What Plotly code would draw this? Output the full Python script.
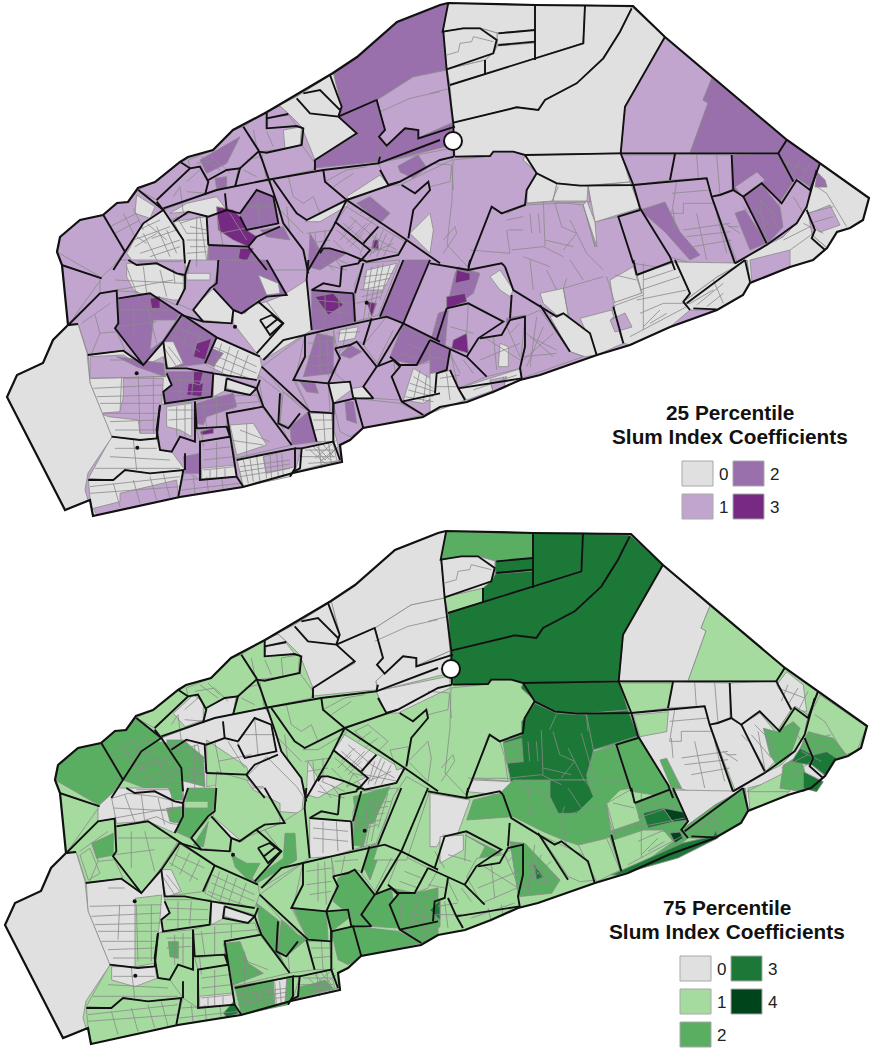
import plotly.graph_objects as go

PURPLES = ["#E0E0E0", "#C2A5CF", "#9970AB", "#762A83"]
GREENS = ["#E0E0E0", "#A6DBA0", "#5AAE61", "#1B7837", "#00441B"]
TITLE_25 = ["25 Percentile", "Slum Index Coefficients"]
TITLE_75 = ["75 Percentile", "Slum Index Coefficients"]
LEGEND_25 = [(0, 682, 461), (1, 682, 494), (2, 733, 461), (3, 733, 494)]
LEGEND_75 = [(0, 680, 956), (1, 680, 989), (2, 680, 1022), (3, 731, 956), (4, 731, 989)]
OFFSET_75 = (-2, 528)

PANELS = {"p": (0, 0, 1), "a": (0, 0, 3), "b": (0, 260, 3), "c": (430, 0, 3), "d": (430, 260, 3),
          "e": (432, -3, 3), "f": (2, 252, 3), "g": (432, 252, 3), "h": (2, 62, 3)}

OUTLINE = [(448,3),(535,5),(633,6),(665,37),(787,140),(820,163),(869,198),(863,220),(850,228),(837,232),(827,248),
           (813,260),(790,267),(750,283),(743,295),(717,310),(670,327),(630,345),(597,355),(540,375),(520,380),
           (493,392),(467,402),(440,407),(423,417),(363,428),(350,440),(340,445),(342,462),(293,473),(243,487),
           (180,497),(93,516),(90,500),(65,510),(7,397),(17,375),(43,363),(53,340),(68,325),(78,324),(68,325),
           (62,265),(57,252),(60,237),(80,220),(103,215),(117,203),(128,202),(138,188),(155,182),(180,162),
           (188,157),(213,150),(233,130),(267,112),(333,73),(357,57),(397,22),(440,5)]

REGIONS = [
 ("p",[(333,73),(357,57),(397,22),(440,5),(448,3),(443,32),(447,70),(413,77),(377,100),(338,117),(342,107)],2,0),
 ("p",[(377,100),(413,77),(447,70),(452,123),(418,138),(418,130),(405,128),(387,146),(379,137),(385,130)],1,0),
 ("p",[(338,117),(377,100),(385,130),(379,137),(387,146),(378,153),(379,162),(365,163),(315,168),(313,160),(357,135),(340,125)],2,0),
 ("p",[(378,153),(405,128),(418,130),(418,138),(452,123),(452,145),(380,163)],2,0),
 ("p",[(378,163),(452,148),(452,160),(400,185),(388,185)],1,0),
 ("p",[(398,166),(418,155),(427,168),(413,178),(400,172)],2,None),
 ("p",[(448,3),(535,5),(535,30),(497,33),(480,28),(463,28),(443,32)],0,2),
 ("p",[(535,5),(585,5),(583,43),(535,58)],0,3),
 ("p",[(497,33),(535,30),(535,43),(497,46)],0,3),
 ("p",[(497,46),(535,43),(535,58),(485,75),(485,60),(494,52)],0,3),
 ("p",[(447,69),(485,60),(485,75),(450,85)],0,1),
 ("p",[(443,32),(463,28),(480,28),(497,33),(497,46),(494,52),(485,60),(447,69)],0,0),
 ("p",[(450,85),(583,43),(585,5),(632,7),(620,32),(603,58),(577,83),(545,100),(538,110),(517,107),(453,123)],0,3),
 ("p",[(453,123),(517,107),(538,110),(545,100),(577,83),(603,58),(620,32),(632,7),(665,37),(625,107),(621,153),(525,155),(513,152),(493,152),(490,156),(455,157)],0,3),
 ("p",[(665,37),(712,78),(703,100),(708,103),(690,153),(621,153),(625,107)],1,0),
 ("p",[(712,78),(787,140),(778,153),(690,153),(708,103),(703,100)],2,1),
 ("p",[(525,155),(621,153),(630,182),(580,186),(557,183),(537,173),(523,160)],0,3),
 ("p",[(621,153),(675,153),(670,180),(633,185)],1,1),
 ("p",[(453,160),(490,156),(493,152),(513,152),(525,155),(523,160),(537,173),(527,190),(527,203),(502,213),(492,207),(468,267),(447,245),(452,200)],1,1),
 # west
 ("a",[(170,755),(180,710),(240,660),(310,645),(372,755),(312,837)],1,2),
 ("a",[(310,645),(350,610),(385,605),(415,570),(490,630),(430,670),(375,755)],1,2),
 ("a",[(410,585),(465,620),(450,655),(405,640)],0,None),
 ("a",[(415,570),(465,545),(540,485),(570,505),(470,600)],1,1),
 ("a",[(470,600),(570,505),(600,500),(625,545),(615,585),(490,630)],1,1),
 ("h",[(520,370),(580,315),(610,335),(610,390),(555,410)],None,0),
 ("a",[(565,480),(640,450),(700,390),(730,380),(775,455),(715,505),(680,510),(625,540),(600,500),(570,505)],1,1),
 ("a",[(600,480),(720,410),(680,490),(620,520)],2,None),
 ("a",[(625,540),(680,510),(715,505),(705,560),(615,585)],1,0),
 ("a",[(645,535),(680,530),(680,565),(650,565)],2,None),
 ("a",[(715,505),(775,455),(790,490),(800,540),(705,560)],1,1),
 ("a",[(800,335),(840,318),(865,340),(800,355)],1,0),
 ("a",[(805,355),(865,345),(890,378),(800,385)],1,0),
 ("a",[(800,335),(890,290),(1000,220),(1025,320),(1015,350),(1070,400),(945,480),(905,380),(865,340),(840,318)],0,0),
 ("a",[(730,380),(800,335),(800,385),(890,378),(910,385),(900,440),(780,455)],1,1),
 ("a",[(850,390),(905,380),(900,440),(855,445)],0,1),
 ("a",[(785,458),(855,445),(905,435),(945,490),(940,510),(800,540)],1,1),
 ("p",[(268,180),(323,170),(325,182),(347,200),(307,220),(297,213),(273,180)],1,1),
 ("p",[(323,170),(378,163),(388,185),(347,200),(325,182)],1,1),
 ("a",[(1040,590),(1140,525),(1165,555),(1050,600)],0,None),
 ("a",[(915,665),(1035,605),(1045,615),(960,665)],0,1),
 # central north (below the main road)
 ("a",[(490,630),(650,570),(800,540),(815,560),(835,620),(850,670),(910,750),(920,810),(555,810),(550,720)],1,0),
 ("h",[(620,450),(740,530),(750,570),(620,590)],None,1),
 ("h",[(430,450),(510,460),(540,540),(550,620),(450,600),(370,570)],None,2),
 ("h",[(500,450),(550,450),(610,500),(615,590),(540,570)],None,2),
 ("a",[(510,640),(565,635),(625,650),(680,630),(650,590),(560,610)],0,None),
 ("a",[(380,760),(430,670),(490,630),(550,720),(555,800),(410,800)],0,None),
 ("a",[(520,665),(620,650),(625,735),(620,810),(555,800),(550,720)],0,None),
 ("a",[(720,640),(770,570),(820,590),(835,670),(740,690),(720,650)],2,0),
 ("a",[(650,620),(700,630),(720,650),(740,690),(770,710),(745,740),(700,720),(655,690)],3,None),
 ("a",[(625,735),(745,740),(790,800),(650,810),(625,800)],2,None),
 ("a",[(720,745),(760,745),(740,785),(715,775)],3,None),
 ("a",[(780,690),(850,680),(870,720),(800,710)],2,None),
 ("h",[(740,560),(800,500),(890,590),(910,620),(905,670),(840,665),(790,590),(760,590)],None,0),
 # south-west
 ("b",[(185,15),(305,55),(205,195)],1,1),
 ("b",[(205,195),(300,100),(350,92),(355,190),(345,205),(375,270),(265,285),(235,193)],1,1),
 ("f",[(275,190),(340,160),(340,225),(290,235)],None,2),
 ("f",[(240,225),(270,205),(300,280),(265,300)],None,1),
 ("b",[(300,55),(360,0),(555,0),(555,90),(530,135),(450,100),(350,92),(300,100)],1,0),
 ("b",[(380,10),(470,10),(550,50),(550,120),(520,120),(420,100),(400,90),(380,50)],0,None),
 ("f",[(335,55),(385,40),(470,50),(550,70),(545,135),(510,130),(470,110),(420,125),(350,130)],None,0),
 ("f",[(500,85),(545,80),(545,130),(510,125)],None,2),
 ("f",[(500,10),(545,10),(548,60),(520,60)],None,2),
 ("b",[(355,115),(450,100),(540,160),(490,240),(430,315),(345,205),(355,190)],2,1),
 ("b",[(460,180),(530,180),(490,240),(450,270)],1,None),
 ("b",[(450,115),(480,110),(480,145),(455,145)],3,None),
 ("b",[(540,165),(650,232),(620,310),(500,325),(485,245)],2,1),
 ("b",[(485,245),(520,245),(550,310),(505,328)],0,0),
 ("b",[(590,250),(635,235),(615,300),(580,290)],3,None),
 ("b",[(650,232),(780,290),(785,320),(770,360),(680,345),(620,315)],0,1),
 ("b",[(635,265),(670,280),(640,320),(620,310)],2,None),
 ("b",[(265,285),(370,272),(430,315),(490,250),(500,340),(515,375),(490,395),(495,430),(480,435),(470,535),(420,540),(335,530),(270,370)],0,0),
 ("b",[(270,290),(370,285),(430,320),(490,290),(498,350),(270,355)],1,None),
 ("b",[(350,290),(490,310),(495,350),(410,320)],2,None),
 ("b",[(370,355),(490,355),(480,520),(420,520),(415,480),(325,470),(300,460),(360,455),(370,410)],1,None),
 ("f",[(405,355),(485,345),(480,415),(465,550),(405,560)],None,1),
 ("b",[(335,530),(420,540),(470,535),(480,570),(515,575),(555,630),(450,640),(375,630),(340,660),(265,655)],0,1),
 ("f",[(335,560),(465,560),(470,595),(405,620),(335,600)],None,0),
 ("b",[(265,660),(340,660),(375,630),(450,640),(550,630),(535,710),(280,768),(270,715)],0,1),
 ("b",[(360,700),(530,660),(535,710),(290,765),(280,745),(360,725)],1,None),
 ("b",[(480,435),(585,425),(585,545),(540,530),(515,575),(480,570),(470,510)],1,1),
 ("b",[(500,440),(575,430),(575,530),(540,510),(500,500)],0,None),
 ("f",[(505,485),(535,485),(535,535),(510,530)],None,2),
 ("b",[(500,335),(640,335),(635,410),(495,430),(490,395),(515,375)],2,1),
 ("b",[(565,370),(610,370),(605,410),(560,405)],3,None),
 ("b",[(580,335),(610,335),(600,375),(580,370)],3,None),
 ("b",[(640,340),(680,350),(680,390),(640,410)],0,0),
 ("b",[(680,355),(770,380),(750,405),(680,385)],0,0),
 ("b",[(585,425),(635,410),(770,405),(785,440),(680,460),(680,500),(590,505)],1,1),
 ("b",[(590,430),(640,415),(700,400),(710,440),(620,470),(610,495),(590,490)],2,None),
 ("b",[(680,460),(785,440),(875,555),(705,595)],1,1),
 ("b",[(690,495),(760,490),(800,555),(710,585)],0,None),
 ("f",[(670,490),(720,485),(745,550),(790,580),(700,615)],None,2),
 ("b",[(590,510),(680,500),(690,530),(600,545)],1,1),
 ("b",[(600,515),(640,505),(640,520),(605,525)],3,None),
 ("b",[(600,545),(690,530),(705,600),(710,650),(605,660)],1,1),
 ("b",[(605,625),(705,615),(710,650),(605,660)],0,0),
 ("b",[(710,595),(885,565),(885,625),(870,650),(730,680)],0,2),
 ("b",[(790,590),(885,565),(885,620),(800,640)],1,None),
 ("f",[(820,600),(860,595),(855,670),(825,675)],None,0),
 ("b",[(535,710),(555,630),(600,660),(710,650),(730,680)],1,1),
 ("b",[(550,590),(600,580),(600,640),(555,640)],2,None),
 ("f",[(670,700),(700,665),(715,700),(680,712)],None,3),
 ("b",[(885,635),(905,565),(1000,545),(1020,600)],0,1),
 ("f",[(900,620),(945,610),(975,600),(1000,625),(890,655)],None,2),
 ("b",[(940,560),(1005,520),(1015,560),(975,600)],0,None),
 # central
 ("b",[(775,345),(845,400),(840,490),(870,550),(790,440)],1,2),
 ("b",[(850,395),(900,440),(930,455),(870,500),(840,490)],1,2),
 ("b",[(930,460),(995,460),(1000,545),(950,545)],0,1),
 ("b",[(870,500),(925,455),(950,545),(875,555)],2,1),
 ("b",[(785,320),(915,225),(915,290),(880,360),(930,455),(850,395)],1,1),
 ("b",[(885,360),(985,370),(990,455),(930,455)],1,2),
 ("b",[(900,365),(945,370),(955,400),(920,395)],2,None),
 ("b",[(915,225),(1000,205),(1005,265),(1020,295),(1005,325),(985,370),(885,360)],1,1),
 ("b",[(950,220),(1000,230),(1000,340),(910,350)],2,None),
 ("b",[(1020,270),(1070,245),(1130,320),(1090,380),(1060,385),(1005,340)],1,2),
 ("b",[(1050,255),(1085,275),(1050,295),(1020,285)],2,None),
 ("b",[(985,370),(1050,365),(1060,415),(1120,415),(1090,380),(1060,385),(1000,430)],0,2),
 ("b",[(1000,430),(1065,415),(1090,505),(1050,530),(1020,515)],1,2),
 ("b",[(1035,425),(1060,425),(1070,490),(1040,480)],2,None),
 ("b",[(1065,415),(1200,430),(1270,465),(1090,505)],1,2),
 ("b",[(1130,320),(1180,300),(1200,420),(1120,415),(1090,380)],1,2),
 ("b",[(1090,255),(1160,170),(1210,190),(1135,315)],1,1),
 ("b",[(1000,205),(1115,175),(1090,250),(1070,245),(1010,265)],1,1),
 ("b",[(1020,210),(1075,200),(1065,235),(1015,245)],0,None),
 ("f",[(1090,260),(1115,195),(1150,190),(1110,300)],None,2),
 ("b",[(1210,190),(1320,245),(1290,300),(1250,315),(1200,315),(1170,290)],2,1),
 ("b",[(1180,300),(1200,320),(1175,350),(1205,425),(1270,465),(1320,440),(1320,300),(1250,315)],1,2),
 ("b",[(1210,420),(1240,325),(1300,360),(1310,405),(1270,430)],0,None),
 ("f",[(1200,370),(1260,345),(1320,360),(1320,440),(1265,470),(1205,450)],None,2),
 ("f",[(1290,390),(1320,360),(1320,420)],None,3),
 ("b",[(935,90),(1060,100),(1065,185),(1000,205),(935,210)],2,0),
 ("b",[(945,110),(1000,100),(1030,135),(985,165)],3,None),
 ("b",[(1065,70),(1090,10),(1200,0),(1135,165),(1065,185)],1,1),
 ("b",[(1100,30),(1190,10),(1150,90),(1090,90)],0,None),
 ("b",[(1100,125),(1130,130),(1115,170)],3,None),
 ("f",[(1065,60),(1130,40),(1110,120),(1090,200),(1060,195)],None,2),
 ("b",[(1140,170),(1210,0),(1290,0),(1210,185)],2,1),
 ("b",[(850,105),(920,60),(935,210),(790,300),(770,280),(850,190),(800,125)],0,1),
 ("f",[(855,160),(885,160),(890,240),(770,310),(755,300),(850,235)],None,2),
 ("b",[(700,150),(800,125),(850,190),(770,280),(700,190)],0,1),
 ("f",[(695,225),(740,250),(780,250),(750,305),(705,260)],None,2),
 ("b",[(640,85),(700,150),(695,190),(605,180),(575,150)],0,1),
 ("f",[(580,195),(625,125),(610,200)],None,2),
 ("b",[(570,0),(655,0),(650,70),(630,85),(575,150),(530,130),(555,90)],1,2),
 ("b",[(560,40),(630,40),(630,60),(560,60)],0,1),
 ("b",[(660,0),(800,0),(860,105),(800,110),(770,120),(735,160),(700,150),(640,85)],2,0),
 ("b",[(775,45),(835,70),(840,100),(800,105)],0,None),
 ("h",[(650,545),(740,570),(760,600),(840,640),(840,700),(720,750),(640,680)],None,1),
 # triangle north of centre
 ("a",[(1000,680),(1040,620),(1135,680),(1090,730),(1005,665)],1,0),
 ("a",[(1070,610),(1110,590),(1170,640),(1140,670)],2,1),
 ("a",[(1230,700),(1290,640),(1300,690),(1290,760)],0,1),
 ("a",[(930,700),(960,750),(990,745),(1040,760),(960,810),(925,800)],2,0),
 ("a",[(1110,700),(1140,680),(1215,725),(1195,765),(1100,785),(1080,760)],1,0),
 ("a",[(1120,720),(1135,720),(1135,750),(1115,745)],3,None),
 ("h",[(1060,620),(1100,610),(1170,590),(1120,700),(1070,700)],None,2),
 ("h",[(1170,480),(1225,470),(1220,530),(1190,540)],None,1),
 ("h",[(1180,620),(1220,560),(1290,600),(1220,810),(1120,810)],None,1),
 ("h",[(1080,570),(1040,590),(1060,550),(1100,560)],None,1),
 # east middle
 ("c",[(230,640),(285,615),(580,600),(640,630),(720,770),(735,810),(610,790),(565,650),(495,665),(495,740),(460,615),(365,605),(290,610)],1,2),
 ("p",[(537,173),(557,183),(553,201),(527,203),(527,190)],0,3),
 ("p",[(557,183),(588,186),(587,201),(553,201)],0,3),
 ("p",[(588,186),(630,182),(640,208),(595,222)],0,3),
 ("p",[(587,201),(595,222),(597,247),(583,205)],0,3),
 ("e",[(275,590),(315,535),(380,565),(470,570),(490,675),(480,750),(440,810),(250,810),(232,720),(220,650),(275,630)],None,3),
 ("e",[(490,680),(555,660),(600,790),(480,810),(470,750)],None,2),
 ("e",[(220,655),(275,640),(280,710),(230,715)],None,2),
 ("e",[(175,630),(210,650),(232,720),(240,760),(130,760)],None,1),
 ("e",[(110,800),(130,765),(250,770),(215,810)],None,0),
 ("g",[(110,120),(130,60),(210,40),(250,0),(600,0),(530,70),(545,170),(445,195),(400,180),(340,155),(250,110)],None,2),
 ("g",[(360,0),(470,0),(490,50),(440,100),(385,100),(360,50)],None,3),
 ("g",[(530,70),(600,30),(640,130),(555,160)],None,1),
 ("g",[(0,40),(120,60),(80,170),(40,165),(20,200),(0,200)],None,0),
 ("g",[(30,170),(100,165),(100,210),(30,250)],None,0),
 ("g",[(105,165),(215,220),(145,240),(165,200)],None,2),
 ("g",[(140,235),(215,225),(275,190),(270,320),(155,370),(110,290)],None,1),
 ("g",[(240,185),(285,190),(390,300),(365,340),(265,350)],None,2),
 ("g",[(310,250),(340,290),(320,300)],None,3),
 ("g",[(330,165),(385,190),(470,230),(500,300),(450,305),(415,290)],None,1),
 ("g",[(445,195),(530,175),(570,270),(500,305)],None,1),
 ("g",[(555,170),(640,130),(700,150),(735,185),(610,270),(570,270)],None,1),
 # east: purple gray patches
 ("d",[(180,50),(210,30),(250,90),(240,110),(210,90)],0,None),
 ("d",[(330,100),(400,85),(415,165),(380,165),(340,130)],0,None),
 ("d",[(540,60),(610,20),(635,100),(550,130)],0,None),
 ("d",[(450,175),(545,150),(580,250),(500,285)],0,None),
 ("d",[(360,170),(400,160),(480,220),(500,285),(465,290),(420,275)],0,None),
 ("d",[(545,175),(590,150),(615,185),(570,215)],1,None),
 ("d",[(50,145),(115,130),(220,185),(145,235),(110,290),(20,240)],1,None),
 ("d",[(75,40),(85,20),(150,40),(130,100),(70,140),(50,145)],2,None),
 ("d",[(50,110),(105,100),(110,125),(50,145)],3,None),
 ("d",[(80,30),(120,40),(120,60),(75,70)],3,None),
 ("d",[(70,240),(110,220),(115,280),(65,265)],3,None),
 ("d",[(25,160),(55,150),(45,260),(0,250)],2,None),
 ("d",[(230,175),(285,165),(270,250),(230,230)],2,None),
 ("d",[(110,290),(145,235),(215,225),(240,180),(285,170),(285,260),(270,325),(170,350)],1,None),
 ("d",[(210,250),(235,260),(235,320),(205,320)],0,None),
 ("d",[(285,170),(330,150),(420,275),(460,290),(275,355),(270,325)],1,None),
 ("d",[(0,340),(50,335),(60,330),(85,385),(105,420),(0,460)],0,None),
 ("d",[(85,385),(275,325),(275,360),(110,420)],0,None),
 ("d",[(180,360),(230,350),(220,385),(190,395)],1,None),
 ("d",[(60,270),(110,290),(170,350),(85,385)],1,None),
 ("d",[(0,240),(60,270),(50,330),(0,340)],2,None),
 ("c",[(640,625),(725,605),(740,700),(820,800),(790,810),(760,760),(690,690)],2,None),
 # east purple map blocks
 ("p",[(633,185),(707,178),(712,197),(734,263),(715,270),(670,257),(642,210)],1,0),
 ("p",[(640,210),(665,202),(680,232),(700,255),(690,260),(665,232)],2,None),
 ("e",[(610,570),(715,560),(710,620),(630,635)],None,1),
 ("e",[(690,705),(710,700),(755,790),(725,790)],None,2),
 ("p",[(675,154),(732,155),(733,190),(712,197),(707,178),(670,180)],1,0),
 ("p",[(732,155),(778,153),(793,182),(780,202),(762,183),(742,197),(732,190)],2,0),
 ("p",[(735,187),(757,172),(765,180),(742,196)],1,None),
 ("p",[(778,153),(787,140),(820,163),(810,187),(797,178),(793,182)],2,1),
 ("e",[(1040,480),(1070,440),(1120,480),(1130,560),(1085,550)],None,0),
 ("p",[(820,163),(869,198),(863,220),(850,228),(837,232),(827,248),(812,235),(815,225),(803,217),(810,190),(816,172)],0,1),
 ("p",[(817,172),(825,180),(827,187),(815,187)],2,None),
 ("p",[(805,215),(830,205),(840,225),(820,232)],1,None),
 ("p",[(793,182),(797,178),(810,187),(807,207),(797,223),(783,237),(767,246),(780,202)],1,1),
 ("p",[(743,197),(762,185),(780,207),(783,227),(768,243)],2,0),
 ("p",[(712,197),(732,190),(743,197),(768,243),(737,262)],1,0),
 ("p",[(735,213),(745,210),(767,243),(750,250)],2,None),
 ("p",[(735,263),(763,247),(783,237),(797,223),(807,207),(812,235),(827,248),(813,260),(790,267),(750,283),(747,260),(717,277),(683,302),(675,262)],0,0),
 ("p",[(747,260),(750,283),(743,295),(717,310),(690,310),(683,302),(717,277)],0,2),
 ("p",[(750,260),(790,250),(790,267),(752,282)],1,1),
 ("p",[(637,275),(675,262),(690,293),(683,303),(690,310),(670,327),(630,345),(623,343),(612,310),(615,307),(613,303),(642,293)],0,2),
 ("g",[(550,180),(640,150),(700,150),(730,185),(610,270),(570,270)],None,1),
 ("p",[(665,280),(685,284),(689,292),(675,294)],None,4),
 ("p",[(672,305),(682,304),(685,310),(677,315)],None,4),
 ("p",[(645,285),(665,280),(675,294),(650,300)],None,3),
 ("p",[(613,347),(685,315),(715,308),(718,302),(720,310),(680,330),(620,347)],None,3),
 ("p",[(610,320),(625,313),(632,327),(615,332)],1,None),
 ("e",[(1000,610),(1040,620),(1090,590),(1110,610),(1085,680),(1040,720),(1020,690)],None,2),
 ("e",[(950,800),(1060,745),(1080,800)],None,1),
 ("e",[(1110,700),(1130,590),(1170,510),(1310,605),(1280,680),(1240,690),(1180,720)],None,1),
 ("e",[(1060,720),(1110,690),(1130,760),(1170,770),(1120,800),(1050,790)],None,2),
 ("e",[(1120,740),(1180,770),(1160,800),(1120,790)],None,3),
 ("e",[(1110,670),(1135,620),(1210,640),(1250,690),(1190,710)],None,2),
 ("e",[(1085,710),(1110,670),(1150,690),(1140,720)],None,3),
 ("e",[(1140,715),(1185,750),(1220,700),(1190,680),(1150,690)],None,3),
 # the large grey parcel on the west edge is empty in both maps
 ("p",[(78,324),(87,353),(90,383),(112,437),(88,473),(85,490),(88,500),(65,510),(7,397),(17,375),(43,363),(53,340),(68,325)],0,0),
]

THIN = [
 ("a",[(1130,340),(1230,295),(1320,275)]),("a",[(590,490),(650,480),(690,520)]),("a",[(605,470),(660,510)]),("a",[(630,465),(665,500)]),
 ("a",[(520,590),(540,560),(550,640)]),("a",[(560,575),(620,580)]),("a",[(560,545),(600,510)]),("a",[(760,390),(770,440)]),("a",[(800,395),(820,440)]),
 ("a",[(730,510),(770,530)]),("a",[(740,480),(780,470)]),("a",[(865,530),(880,590),(910,610),(940,590),(960,640)]),("a",[(975,545),(1040,510),(1100,500)]),
 ("a",[(1000,560),(1060,520)]),("a",[(330,680),(410,640)]),("a",[(345,700),(420,660)]),("a",[(370,640),(400,700)]),("a",[(400,625),(430,690)]),
 ("a",[(400,720),(510,680)]),("a",[(420,760),(540,720)]),("a",[(430,700),(470,780)]),("a",[(470,680),(510,770)]),("a",[(510,660),(570,640)]),("a",[(540,670),(600,650)]),
 ("a",[(570,680),(620,690)]),("a",[(560,720),(620,720)]),("a",[(560,760),(620,755)]),("a",[(590,650),(590,800)]),("a",[(650,640),(670,740)]),("a",[(690,640),(740,720)]),
 ("a",[(660,700),(760,680)]),("a",[(730,620),(830,620)]),("a",[(770,570),(780,680)]),("a",[(860,620),(870,700)]),("a",[(830,620),(910,700)]),
 ("a",[(920,700),(1000,690)]),("a",[(930,730),(990,720)]),("a",[(945,700),(950,770)]),("a",[(975,690),(975,760)]),("a",[(1010,690),(1080,750)]),("a",[(1030,670),(1100,730)]),
 ("a",[(1050,650),(1120,710)]),("a",[(1020,720),(1060,680)]),("a",[(1050,740),(1090,700)]),("a",[(1080,640),(1120,610)]),("a",[(1100,660),(1140,630)]),
 ("a",[(1120,710),(1190,750)]),("a",[(1150,690),(1120,760)]),("a",[(1180,710),(1150,770)]),("a",[(970,760),(1040,790)]),("a",[(960,790),(1040,810)]),
 ("a",[(395,700),(440,730)]),("a",[(405,740),(470,700)]),("a",[(440,670),(500,720)]),("a",[(450,770),(540,740)]),("a",[(500,690),(530,760)]),("a",[(415,690),(480,660)]),
 ("a",[(455,715),(530,690)]),("a",[(415,785),(545,785)]),("a",[(530,650),(560,700)]),("a",[(560,700),(620,700)]),("a",[(600,650),(620,780)]),("a",[(570,740),(620,740)]),
 ("a",[(1030,700),(1070,660)]),("a",[(1040,730),(1100,670)]),("a",[(1060,720),(1120,660)]),("a",[(1000,720),(1040,760)]),("a",[(1130,700),(1110,770)]),("a",[(1160,700),(1130,770)]),
 ("a",[(1100,740),(1200,760)]),("a",[(1110,760),(1180,730)]),("a",[(965,770),(1000,810)]),("a",[(1000,770),(1030,810)]),
 ("b",[(245,190),(330,130)]),("b",[(285,165),(300,220),(275,280)]),("b",[(300,220),(350,215)]),("b",[(360,150),(530,150)]),("b",[(400,130),(400,240)]),("b",[(440,130),(470,250)]),("b",[(350,200),(470,185)]),
 ("b",[(380,20),(410,100)]),("b",[(345,60),(550,70)]),("b",[(350,90),(520,60)]),("b",[(430,20),(440,100)]),("b",[(480,30),(500,110)]),("b",[(520,25),(525,70)]),
 ("b",[(530,200),(620,240)]),("b",[(515,225),(600,275)]),("b",[(545,175),(520,235)]),("b",[(575,195),(545,260)]),("b",[(605,215),(575,280)]),("b",[(505,260),(545,310)]),("b",[(490,260),(530,320)]),
 ("b",[(640,260),(770,320)]),("b",[(640,285),(770,340)]),("b",[(630,310),(760,360)]),("b",[(665,250),(640,330)]),("b",[(690,260),(665,340)]),("b",[(715,270),(690,350)]),("b",[(745,285),(720,355)]),
 ("b",[(505,360),(630,365)]),("b",[(505,395),(630,395)]),("b",[(540,340),(540,420)]),("b",[(580,340),(575,410)]),
 ("b",[(275,355),(490,350)]),("b",[(280,385),(490,375)]),("b",[(290,410),(490,405)]),("b",[(300,430),(480,430)]),("b",[(310,460),(475,460)]),("b",[(330,485),(470,480)]),("b",[(345,510),(470,510)]),
 ("b",[(365,350),(360,455)]),("b",[(415,350),(420,520)]),("b",[(460,350),(460,520)]),("b",[(330,300),(380,300)]),
 ("b",[(345,565),(470,565)]),("b",[(330,590),(510,600)]),("b",[(285,625),(540,625)]),("b",[(400,540),(410,630)]),
 ("b",[(270,680),(540,650)]),("b",[(270,700),(540,680)]),("b",[(340,670),(360,740)]),("b",[(400,660),(420,730)]),("b",[(450,650),(470,720)]),("b",[(490,640),(510,715)]),
 ("b",[(505,450),(580,450)]),("b",[(505,480),(580,475)]),("b",[(530,440),(530,530)]),("b",[(555,435),(555,530)]),
 ("b",[(585,440),(780,425)]),("b",[(610,430),(620,500)]),("b",[(650,415),(650,500)]),("b",[(700,410),(700,450)]),
 ("b",[(610,570),(695,560)]),("b",[(610,600),(700,590)]),("b",[(650,545),(650,655)]),("b",[(610,630),(705,620)]),("b",[(630,630),(630,655)]),("b",[(675,625),(675,650)]),
 ("b",[(550,660),(700,650)]),("b",[(545,690),(720,670)]),("b",[(580,650),(585,700)]),("b",[(620,650),(625,695)]),("b",[(665,650),(670,690)]),
 ("b",[(720,620),(870,600)]),("b",[(720,650),(870,625)]),("b",[(770,590),(780,665)]),("b",[(810,585),(815,660)]),("b",[(845,580),(850,650)]),
 ("b",[(720,510),(810,545)]),("b",[(740,490),(740,590)]),("b",[(690,540),(790,555)]),
 ("b",[(610,560),(605,510)]),("b",[(905,590),(1005,590)]),("b",[(930,570),(975,610)]),("b",[(950,560),(990,600)]),("b",[(970,555),(1000,590)]),("b",[(945,595),(1010,540)]),("b",[(960,605),(1015,560)]),
 ("b",[(940,480),(1000,480)]),("b",[(945,510),(1000,505)]),("b",[(970,460),(975,545)]),
 ("b",[(925,250),(1000,240)]),("b",[(925,290),(1000,280)]),("b",[(935,320),(1000,310)]),("b",[(960,225),(960,340)]),("b",[(980,220),(985,350)]),
 ("b",[(945,120),(1050,130)]),("b",[(945,150),(1050,160)]),("b",[(975,100),(975,195)]),("b",[(1015,100),(1020,190)]),
 ("b",[(1090,50),(1180,40)]),("b",[(1080,90),(1160,75)]),("b",[(1070,130),(1140,110)]),("b",[(1115,20),(1090,180)]),("b",[(1150,10),(1120,160)]),
 ("b",[(1095,70),(1170,55)]),("b",[(1085,110),(1150,95)]),("b",[(1135,15),(1105,170)]),("b",[(1170,15),(1140,120)]),
 ("b",[(1180,210),(1130,310)]),("b",[(1230,210),(1290,240)]),("b",[(1220,250),(1270,270)]),("b",[(1205,280),(1260,300)]),
 ("b",[(1240,350),(1300,385)]),("b",[(1225,390),(1300,410)]),("b",[(1260,330),(1240,420)]),("b",[(1280,345),(1270,425)]),("b",[(1230,370),(1305,395)]),("b",[(1215,410),(1300,425)]),
 ("b",[(1010,220),(1080,215)]),("b",[(1040,205),(1030,255)]),
 ("b",[(915,570),(1000,570)]),("b",[(925,610),(1010,605)]),("b",[(955,550),(965,625)]),("b",[(985,545),(995,615)]),("b",[(1000,550),(1010,600)]),
 ("b",[(730,600),(745,670)]),("b",[(750,595),(760,665)]),("b",[(790,590),(800,655)]),("b",[(830,580),(835,650)]),("b",[(720,635),(870,612)]),
 ("c",[(50,165),(85,155),(90,130),(125,125),(130,110),(190,125)]),("c",[(0,280),(60,265)]),("c",[(580,465),(735,465)]),
 ("c",[(800,462),(805,535)]),("c",[(860,465),(870,585)]),("c",[(740,545),(725,640)]),("c",[(725,580),(840,570)]),("c",[(725,640),(760,640),(760,610),(850,610)]),
 ("c",[(385,560),(365,605)]),("c",[(475,560),(480,610)]),("c",[(460,615),(495,740)]),("c",[(230,660),(280,650)]),("c",[(235,690),(280,690)]),("c",[(300,640),(305,700)]),("c",[(325,640),(330,700)]),("c",[(340,605),(345,740)]),
 ("c",[(375,610),(395,680),(440,700),(400,750)]),("c",[(245,750),(340,740),(400,770)]),("c",[(120,750),(240,760)]),("c",[(345,720),(430,740)]),
 ("c",[(230,690),(240,760)]),("c",[(280,770),(360,800)]),("c",[(420,660),(470,760),(520,810)]),
 ("c",[(40,720),(75,680),(80,700),(40,760)]),("c",[(65,500),(70,570)]),("c",[(0,490),(65,495),(60,545),(0,560)]),
 ("c",[(760,690),(900,670)]),("c",[(770,710),(900,695)]),("c",[(790,740),(905,720)]),("c",[(730,630),(735,690)]),("c",[(800,640),(830,780)]),("c",[(860,640),(890,760)]),
 ("c",[(885,670),(930,700)]),("c",[(895,680),(925,680)]),("c",[(940,620),(960,640)]),("c",[(980,590),(1040,650)]),("c",[(970,620),(1030,690)]),("c",[(990,610),(1010,720)]),("c",[(1020,640),(1050,690)]),
 ("c",[(1090,590),(1120,640)]),("c",[(1080,470),(1060,520)]),("c",[(1110,480),(1080,530)]),("c",[(1140,490),(1110,550)]),("c",[(1050,480),(1130,510)]),
 ("c",[(1160,560),(1190,580),(1250,680)]),("c",[(1130,640),(1210,620)]),("c",[(1140,670),(1210,650)]),("c",[(1120,670),(1180,700)]),("c",[(1060,720),(1140,680)]),("c",[(1080,750),(1150,700)]),
 ("d",[(640,60),(730,30)]),("d",[(630,90),(750,50)]),("d",[(620,120),(770,90)]),("d",[(630,160),(700,130),(780,130)]),("d",[(640,200),(690,150)]),("d",[(660,190),(710,160)]),("d",[(600,230),(770,140)]),
 ("d",[(545,140),(640,105)]),("d",[(555,45),(620,60)]),("d",[(640,10),(640,210)]),("d",[(780,130),(850,90)]),("d",[(800,135),(880,70)]),("d",[(830,140),(880,100)]),("d",[(850,60),(880,130)]),
 ("d",[(400,85),(520,50)]),("d",[(410,55),(400,85),(415,170)]),("d",[(530,50),(555,130)]),("d",[(420,0),(460,60)]),("d",[(350,30),(380,90)]),("d",[(300,0),(310,90)]),
 ("d",[(280,290),(380,280)]),("d",[(300,230),(380,270)]),("d",[(320,170),(300,320)]),("d",[(340,200),(290,320)]),("d",[(290,220),(370,290)]),("d",[(370,220),(280,300)]),
 ("d",[(160,230),(270,300)]),("d",[(190,225),(200,330)]),("d",[(230,200),(270,290)]),("d",[(150,300),(270,250)]),("d",[(240,220),(270,190)]),
 ("d",[(30,355),(90,345)]),("d",[(20,380),(100,380)]),("d",[(50,340),(60,420)]),("d",[(130,390),(260,345)]),("d",[(180,360),(190,400)]),("d",[(220,350),(225,385)]),
 ("d",[(0,290),(50,300)]),("d",[(60,280),(90,340)]),("d",[(100,300),(130,340)]),("d",[(60,200),(130,220)]),("d",[(115,130),(110,220)]),("d",[(20,190),(50,240)]),
]

THICK = [
 ("a",[(730,380),(775,450),(790,490),(815,560),(835,620),(850,670),(910,750),(925,820)]),
 ("b",[(925,0),(920,60),(935,210)]),
 ("a",[(490,625),(650,570),(800,540),(970,510),(1135,490),(1320,420)]),
 ("a",[(470,605),(490,630)]),
 ("a",[(1362,470),(1320,480),(1200,545),(1040,600),(920,660),(890,640),(820,540)]),
 ("a",[(415,570),(490,630),(430,670),(375,755),(340,810)]),
 ("a",[(310,645),(375,755)]),
 ("b",[(185,15),(305,55)]),
 ("a",[(490,630),(550,720),(555,790)]),
 ("a",[(540,485),(570,505),(470,600)]),
 ("a",[(570,505),(600,500),(625,545),(615,585)]),
 ("a",[(625,540),(680,510),(720,505),(705,560)]),
 ("a",[(720,505),(775,455)]),
 ("a",[(800,335),(800,385),(890,378),(910,385),(905,435),(855,445),(800,458),(775,455)]),
 ("a",[(800,355),(865,342)]),
 ("a",[(890,295),(930,340),(1015,350),(1070,400),(945,480)]),
 ("a",[(910,280),(960,270),(1000,310),(1020,330)]),
 ("a",[(990,225),(1025,320),(1015,350)]),
 ("a",[(1015,350),(1130,300),(1155,390),(1137,410),(1160,437),(1215,385),(1255,390),(1255,415),(1365,380)]),
 ("a",[(945,480),(945,510)]),
 ("a",[(970,510),(975,545),(1040,600),(1220,720),(1320,790)]),
 ("a",[(1140,470),(1135,490)]),("a",[(1140,510),(1165,555),(1200,545)]),
 ("a",[(1205,555),(1245,580),(1285,545),(1290,570),(1240,630),(1225,715)]),
 ("a",[(675,580),(680,630)]),
 ("a",[(720,640),(770,570),(820,590),(835,670),(740,690),(720,650)]),
 ("a",[(520,665),(565,635),(625,650),(680,630),(720,640)]),
 ("a",[(620,650),(625,735)]),
 ("a",[(745,740),(770,710),(840,680)]),
 ("a",[(625,735),(745,740),(800,810)]),
 ("a",[(1040,600),(1000,680),(960,750),(925,810)]),
 ("a",[(1005,665),(1110,750),(1080,785)]),
 ("a",[(1135,680),(1090,730)]),
 ("a",[(1220,720),(1195,765),(1100,785),(1040,760),(990,745),(970,745),(960,760)]),
 ("b",[(205,195),(300,100),(350,92),(355,190),(345,205),(430,315),(490,245),(545,165),(610,185)]),
 ("b",[(355,115),(450,100),(650,232),(780,290)]),
 ("b",[(263,285),(370,272),(430,315)]),
 ("b",[(650,232),(615,310)]),
 ("b",[(490,245),(500,325),(560,325),(640,340),(770,360)]),
 ("b",[(640,340),(635,410),(495,430),(490,395),(515,375),(500,340)]),
 ("b",[(680,355),(675,390),(750,405),(770,385),(680,355)]),
 ("b",[(480,435),(470,510),(480,570),(515,575),(540,530),(585,545),(585,425)]),
 ("b",[(585,425),(590,505),(680,500),(690,530),(600,545),(600,660),(710,650),(680,460),(790,440)]),
 ("b",[(335,530),(420,540),(470,535),(480,435)]),
 ("b",[(265,660),(340,660),(375,630),(450,640),(550,630),(535,710)]),
 ("b",[(555,580),(555,630)]),
 ("b",[(710,600),(885,565),(885,625),(870,650)]),
 ("b",[(710,650),(730,680)]),
 ("b",[(885,565),(905,565),(900,625),(880,635)]),
 ("b",[(905,565),(1000,545),(1020,600)]),
 ("b",[(780,360),(770,385),(790,440),(875,555)]),
 ("b",[(785,320),(930,455),(1000,460),(1000,430)]),
 ("b",[(790,300),(850,240),(915,225),(1000,205),(1160,170),(1210,190),(1320,245)]),
 ("b",[(915,225),(915,290),(880,360),(985,370),(1050,365),(1060,415),(1120,415),(1090,380),(1130,320)]),
 ("b",[(1005,265),(1050,255),(1070,245),(1130,320)]),
 ("b",[(1005,265),(1020,295),(1005,325),(985,370)]),
 ("b",[(985,370),(1000,430),(1065,415),(1090,505)]),
 ("b",[(1000,430),(1000,545)]),
 ("b",[(925,455),(950,545)]),
 ("b",[(840,400),(835,490),(865,505),(900,460)]),
 ("b",[(1135,315),(1210,190)]),("b",[(1090,255),(1115,175)]),
 ("b",[(1130,320),(1180,300),(1200,320),(1175,350),(1205,425),(1270,465)]),
 ("b",[(1205,425),(1320,400)]),
 ("b",[(1170,290),(1200,315),(1250,315),(1290,240)]),
 ("b",[(1060,100),(1065,185)]),("b",[(935,90),(1060,100)]),("b",[(935,90),(970,70),(1020,80)]),
 ("b",[(1020,80),(1025,20),(1075,10),(1080,0)]),("b",[(1090,10),(1065,100)]),
 ("b",[(1140,170),(1210,0)]),("b",[(1210,190),(1290,0)]),
 ("b",[(385,0),(410,15),(470,10),(530,40),(555,45),(555,85),(530,135)]),
 ("b",[(570,0),(555,45)]),
 ("b",[(655,0),(650,70),(630,85),(580,150),(610,185),(695,190),(700,150),(640,85)]),
 ("b",[(700,150),(725,160),(775,125),(800,110),(860,105),(800,0)]),
 ("b",[(775,125),(850,190),(770,280)]),
 ("b",[(780,180),(815,165),(848,190),(810,225),(780,180)]),("b",[(798,205),(832,178)]),
 ("c",[(55,8),(38,95),(100,85),(150,85),(200,120),(190,160),(50,208)]),
 ("c",[(205,100),(315,90)]),("c",[(205,135),(315,125)]),("c",[(315,15),(315,180)]),("c",[(465,15),(460,130),(60,255)]),("c",[(165,180),(165,225)]),
 ("c",[(40,95),(50,210),(70,370),(72,470)]),
 ("c",[(70,368),(260,322),(325,330),(345,300),(440,250),(520,175),(570,95),(605,25)]),
 ("c",[(705,110),(585,320),(572,460),(610,555),(630,625),(720,770),(735,810)]),
 ("c",[(75,470),(180,468),(190,455),(250,455),(285,465),(572,460),(1045,460)]),
 ("c",[(285,465),(320,520),(380,550),(450,557),(610,555),(830,535),(845,590),(915,790)]),
 ("c",[(320,520),(290,570),(285,615),(215,640),(185,620),(115,800)]),
 ("c",[(630,630),(565,650),(610,790)]),
 ("c",[(735,462),(720,540)]),
 ("c",[(905,465),(910,570),(870,585),(845,590)]),
 ("c",[(910,570),(940,590),(995,550),(1055,610),(1100,540),(1140,570),(1170,490)]),
 ("c",[(1070,420),(1045,460),(1090,545)]),
 ("c",[(940,590),(1010,730)]),
 ("c",[(1160,510),(1130,620),(1100,670),(1010,735),(915,790)]),
 ("c",[(1130,630),(1155,690),(1145,715),(1185,750)]),
 ("d",[(225,20),(250,90),(380,170),(400,160),(480,220),(500,285)]),
 ("d",[(330,135),(420,275)]),
 ("d",[(0,240),(110,290),(170,350)]),
 ("d",[(0,10),(115,30),(215,10),(225,20)]),
 ("d",[(120,0),(115,30)]),
 ("d",[(50,145),(115,130),(220,185),(145,235),(110,290)]),
 ("d",[(50,145),(20,240)]),
 ("d",[(150,235),(185,230),(215,225),(240,180),(285,170),(285,260),(270,325),(275,355),(85,385)]),
 ("d",[(245,105),(240,175)]),
 ("d",[(60,270),(50,330),(20,340),(15,400)]),
 ("d",[(60,330),(85,385),(105,420)]),
 ("d",[(550,140),(580,250)]),
 ("d",[(620,45),(725,5)]),("d",[(610,0),(620,45)]),
 ("d",[(735,0),(780,100),(760,125),(780,150)]),("d",[(770,130),(945,0)]),("d",[(945,0),(960,65)]),
 ("d",[(790,145),(860,148)]),
]

DOTS = [("b",410,340),("b",412,563),("b",1100,128),("b",705,200)]
CIRCLE_CENTRE = (453,141)


def conv(panel, pts, off):
    ox, oy, s = PANELS[panel]
    return [ox + x / s + off[0] for x, _ in pts], [oy + y / s + off[1] for _, y in pts]


fig = go.Figure()


def draw_map(palette, idx, off):
    xs = [x + off[0] for x, _ in OUTLINE]
    ys = [y + off[1] for _, y in OUTLINE]
    fig.add_trace(go.Scatter(x=xs, y=ys, mode="lines", fill="toself", fillcolor=palette[1],
                             line=dict(width=0), hoverinfo="skip"))
    for reg in REGIONS:
        c = reg[idx]
        if c is None:
            continue
        x, y = conv(reg[0], reg[1], off)
        fig.add_trace(go.Scatter(x=x + x[:1], y=y + y[:1], mode="lines", fill="toself", fillcolor=palette[c],
                                 line=dict(width=0.8, color="#8a8a8a"), hoverinfo="skip"))
    tx, ty = [], []
    for panel, pts in THIN:
        x, y = conv(panel, pts, off)
        tx += x + [None]
        ty += y + [None]
    fig.add_trace(go.Scatter(x=tx, y=ty, mode="lines", line=dict(width=0.8, color="#8a8a8a"), hoverinfo="skip"))
    tx, ty = [], []
    for panel, pts in THICK:
        x, y = conv(panel, pts, off)
        tx += x + [None]
        ty += y + [None]
    fig.add_trace(go.Scatter(x=tx, y=ty, mode="lines", line=dict(width=1.9, color="#111111"), hoverinfo="skip"))
    fig.add_trace(go.Scatter(x=xs + xs[:1], y=ys + ys[:1], mode="lines", line=dict(width=2.2, color="#111111"), hoverinfo="skip"))
    dx, dy = [], []
    for panel, a, b in DOTS:
        x, y = conv(panel, [(a, b)], off)
        dx += x
        dy += y
    fig.add_trace(go.Scatter(x=dx, y=dy, mode="markers", marker=dict(size=4, color="#111111"), hoverinfo="skip"))
    fig.add_trace(go.Scatter(x=[CIRCLE_CENTRE[0] + off[0]], y=[CIRCLE_CENTRE[1] + off[1]], mode="markers",
                             marker=dict(size=18, color="white", line=dict(width=2, color="#111111")), hoverinfo="skip"))


draw_map(PURPLES, 2, (0, 0))
draw_map(GREENS, 3, OFFSET_75)

shapes, annos = [], []


def legend(items, palette, titles, cx, y1, y2):
    for v, x, y in items:
        shapes.append(dict(type="rect", x0=x, x1=x + 31, y0=y, y1=y + 25, xref="x", yref="y",
                           fillcolor=palette[v], line=dict(color="#a8a8a8", width=1)))
        annos.append(dict(x=x + 35, y=y + 13, text=str(v), showarrow=False, xanchor="left", yanchor="middle",
                          font=dict(family="Liberation Sans", size=17, color="#222222")))
    for t, y in zip(titles, (y1, y2)):
        annos.append(dict(x=cx, y=y, text="<b>%s</b>" % t, showarrow=False, xanchor="center", yanchor="middle",
                          font=dict(family="Liberation Sans", size=20.8, color="#111111")))


legend(LEGEND_25, PURPLES, TITLE_25, 730, 412, 436)
legend(LEGEND_75, GREENS, TITLE_75, 727, 907, 931)

fig.update_layout(width=874, height=1050, margin=dict(l=0, r=0, t=0, b=0), showlegend=False,
                  paper_bgcolor="white", plot_bgcolor="white", shapes=shapes, annotations=annos,
                  xaxis=dict(range=[0, 874], visible=False, fixedrange=True),
                  yaxis=dict(range=[1050, 0], visible=False, fixedrange=True))
fig.write_html("out.html", config=dict(displayModeBar=False),
               post_script="document.body.style.margin='0';")
